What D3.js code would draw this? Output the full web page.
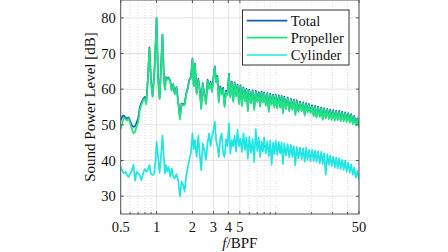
<!DOCTYPE html>
<html>
<head>
<meta charset="utf-8">
<script src="https://cdn.jsdelivr.net/npm/d3@7"></script>
<style>
html,body{margin:0;padding:0;background:#fff;}
svg{display:block;}
text{font-family:"Liberation Serif","DejaVu Serif",serif;fill:#111;}
</style>
</head>
<body>
<svg id="chart" width="448" height="252"></svg>
<script>
// ---- data ----
const freq = [
  0.5, 0.516, 0.532, 0.548, 0.566, 0.583, 0.602, 0.62, 0.64, 0.66, 0.68, 0.702, 0.724, 0.746, 0.77, 0.794, 0.819, 0.845, 0.871, 0.898, 0.926, 0.955, 0.98,
  1.0, 1.03, 1.06, 1.09, 1.12, 1.15, 1.175, 1.2, 1.23, 1.26, 1.3, 1.34, 1.38, 1.42, 1.47, 1.52, 1.57, 1.62, 1.67, 1.72, 1.77, 1.83, 1.88, 1.94,
  2.0, 2.05, 2.1, 2.17, 2.24, 2.3, 2.37, 2.44, 2.52, 2.6, 2.68, 2.76, 2.84, 2.92,
  3.0, 3.08, 3.16, 3.24, 3.33, 3.42, 3.52, 3.62, 3.72, 3.83, 3.94,
  4.05, 4.16, 4.28, 4.4, 4.52, 4.65, 4.78, 4.92,
  5.06, 5.2, 5.36, 5.52, 5.68, 5.84,
  6.0, 6.2, 6.4, 6.6, 6.8, 7.0, 7.2, 7.4, 7.6, 7.8,
  8.0, 8.25, 8.5, 8.75, 9.0, 9.25, 9.5, 9.75,
  10, 10.3, 10.6, 10.9, 11.2, 11.5, 11.8, 12.2, 12.6, 13, 13.4, 13.8, 14.2, 14.6, 15, 15.5, 16, 16.5, 17, 17.5, 18, 18.5, 19, 19.6,
  20.2, 20.8, 21.4, 22, 22.7, 23.4, 24.1, 24.8, 25.5, 26.3, 27.1, 27.9, 28.7, 29.5,
  30.4, 31.3, 32.2, 33.1, 34.1, 35.1, 36.1, 37.2, 38.3, 39.4,
  40.6, 41.8, 43, 44.3, 45.6, 47, 48.4, 50
];
const total = [
  51.2, 52.4, 52.6, 52.0, 51.8, 52.1, 51.0, 49.9, 49.4, 49.6, 50.6, 52.0, 55.0, 56.2, 57.2, 57.8, 56.3, 62.8, 71.7, 62.3, 58.2, 63.8, 72.2,
  79.9, 63.2, 57.4, 66.2, 75.3, 64.2, 60.0, 63.4, 62.9, 63.2, 62.4, 59.8, 61.4, 58.8, 60.6, 56.5, 52.0, 56.0, 55.7, 55.9, 58.7, 60.4, 62.6, 63.3,
  68.6, 61.0, 67.2, 58.9, 62.9, 60.1, 54.8, 61.7, 58.5, 56.2, 62.7, 60.3, 62.1, 59.6,
  63.2, 66.4, 62.2, 63.7, 56.8, 60.8, 59.0, 60.4, 55.6, 59.6, 58.9,
  64.3, 58.0, 62.1, 56.9, 61.9, 58.4, 61.3, 56.4,
  61.1, 55.7, 60.5, 57.0, 60.1, 54.4,
  59.9, 56.5, 59.7, 54.8, 59.5, 56.8, 59.2, 55.6, 59.3, 56.6,
  59.1, 55.9, 58.9, 54.2, 58.7, 56.0, 58.5, 55.3,
  58.5, 55.0, 58.3, 55.2, 58.1, 53.7, 57.9, 54.8, 57.7, 54.2, 57.3, 54.6, 57.1, 53.3, 56.9, 54.0, 56.5, 54.2, 56.3, 53.1, 56.1, 53.8, 55.9, 53.6,
  55.5, 52.8, 55.3, 52.4, 55.1, 52.6, 54.9, 51.8, 54.7, 52.2, 54.5, 52.0, 54.3, 51.8,
  54.1, 51.6, 54.0, 51.7, 53.9, 51.4, 53.7, 51.4, 53.5, 51.2,
  53.3, 51.0, 53.0, 50.6, 52.5, 50.2, 51.8, 49.6
];
const propeller = [
  48.8, 50.6, 52.0, 51.6, 51.2, 51.8, 50.4, 48.8, 47.6, 48.0, 49.6, 50.8, 54.4, 55.6, 56.8, 57.4, 55.8, 62.5, 71.4, 62.0, 57.8, 63.5, 72.0,
  79.8, 63.0, 57.2, 66.0, 75.2, 64.0, 59.8, 63.2, 62.6, 63.0, 62.2, 59.6, 61.2, 58.6, 60.4, 56.2, 51.5, 55.8, 55.4, 55.6, 58.4, 60.2, 62.4, 63.0,
  68.4, 60.8, 67.0, 58.6, 62.6, 59.8, 54.4, 61.4, 58.2, 55.8, 62.4, 60.0, 61.8, 59.2,
  62.8, 66.2, 61.8, 63.4, 56.2, 60.4, 58.6, 60.0, 55.0, 59.2, 58.4,
  64.0, 57.6, 61.8, 56.4, 61.6, 58.0, 61.0, 55.8,
  60.8, 55.2, 60.2, 56.6, 59.8, 53.8,
  59.6, 56.0, 59.4, 54.2, 59.2, 56.4, 58.8, 55.0, 59.0, 56.2,
  58.8, 55.4, 58.6, 53.6, 58.4, 55.6, 58.2, 54.8,
  58.2, 54.6, 58.0, 54.8, 57.8, 53.2, 57.6, 54.4, 57.4, 53.8, 57.0, 54.2, 56.8, 52.8, 56.6, 53.6, 56.2, 53.8, 56.0, 52.6, 55.8, 53.4, 55.6, 53.2,
  55.2, 52.4, 55.0, 52.0, 54.8, 52.2, 54.6, 51.4, 54.4, 51.8, 54.2, 51.6, 54.0, 51.4,
  53.8, 51.2, 53.7, 51.3, 53.6, 51.0, 53.4, 51.0, 53.2, 50.8,
  53.0, 50.6, 52.7, 50.2, 52.2, 49.8, 51.5, 49.2
];
const cylinder = [
  38.3, 37.0, 36.4, 36.8, 35.8, 35.4, 36.3, 37.2, 38.8, 34.3, 36.8, 36.4, 35.8, 34.5, 36.2, 37.6, 36.9, 37.4, 38.7, 36.2, 35.9, 36.4, 40.2,
  45.2, 41.0, 36.5, 41.2, 47.0, 41.0, 36.4, 38.7, 37.0, 38.2, 35.5, 37.8, 35.4, 35.0, 36.2, 34.4, 29.9, 34.1, 33.2, 31.3, 35.5, 38.2, 40.1, 42.0,
  47.6, 43.2, 45.7, 41.0, 46.9, 42.0, 37.3, 44.8, 42.8, 40.2, 45.0, 47.6, 44.0, 46.7,
  48.5, 50.9, 45.7, 44.0, 41.0, 46.0, 47.6, 42.0, 41.0, 46.0, 44.0,
  50.4, 41.9, 45.7, 44.0, 47.0, 42.5, 48.6, 44.0,
  46.2, 42.4, 47.6, 43.0, 46.5, 40.5,
  46.6, 42.2, 46.0, 39.5, 48.8, 42.6, 46.4, 41.0, 45.2, 42.4,
  46.5, 42.0, 45.4, 41.2, 45.6, 38.8, 45.0, 41.8,
  45.6, 41.6, 45.2, 42.0, 45.0, 39.0, 44.8, 41.4, 44.6, 40.8, 44.4, 41.0, 44.0, 38.6, 43.8, 40.6, 43.6, 40.4, 43.4, 39.6, 43.6, 40.2, 43.0, 39.8,
  43.0, 39.8, 42.8, 39.6, 42.6, 39.2, 42.4, 39.0, 42.0, 36.0, 41.8, 38.8, 41.4, 38.4,
  41.0, 38.0, 40.8, 37.8, 40.6, 37.6, 40.2, 37.4, 40.0, 36.8,
  39.4, 36.6, 38.9, 36.0, 38.0, 35.2, 37.0, 34.6
];
const seriesNames = ["Total", "Propeller", "Cylinder"];
const seriesColors = ["#1b5cb8", "#1ee382", "#1de6e3"];
const yTicks = [30, 40, 50, 60, 70, 80];
const xTicks = [0.5, 1, 2, 3, 4, 5, 50];
const xTickLabels = ["0.5", "1", "2", "3", "4", "5", "50"];
const xMinor = [0.6, 0.7, 0.8, 0.9, 6, 7, 8, 9, 10, 20, 30, 40];
const yLabel = "Sound Power Level [dB]";

// ---- layout ----
const L = 120.7, R = 359, T = 0, B = 214;
const svg = d3.select("#chart");
const x = d3.scaleLog().domain([0.5, 50]).range([L, R]);
const y = d3.scaleLinear().domain([25, 85]).range([B, T]);

// grid
const g = svg.append("g");
g.selectAll(".ymaj").data(yTicks).join("line")
  .attr("x1", L).attr("x2", R).attr("y1", d => y(d)).attr("y2", d => y(d))
  .attr("stroke", "#e3e3e3").attr("stroke-width", 1);
g.selectAll(".xmaj").data(xTicks).join("line")
  .attr("x1", d => x(d)).attr("x2", d => x(d)).attr("y1", T).attr("y2", B)
  .attr("stroke", "#e3e3e3").attr("stroke-width", 1);
g.selectAll(".xmin").data(xMinor).join("line")
  .attr("x1", d => x(d)).attr("x2", d => x(d)).attr("y1", T).attr("y2", B)
  .attr("stroke", "#d4d4d4").attr("stroke-width", 0.8).attr("stroke-dasharray", "1,2");

// clip
svg.append("clipPath").attr("id", "clip").append("rect")
  .attr("x", L).attr("y", T).attr("width", R - L).attr("height", B - T);

const n = Math.min(freq.length, total.length, propeller.length, cylinder.length);
const idx = d3.range(n);
const series = [total, propeller, cylinder];
const line = vals => d3.line().x(i => x(freq[i])).y(i => y(vals[i]))(idx);
const lg = svg.append("g").attr("clip-path", "url(#clip)");
series.forEach((vals, k) => {
  lg.append("path").attr("d", line(vals)).attr("fill", "none")
    .attr("stroke", seriesColors[k]).attr("stroke-width", 1.7)
    .attr("stroke-linejoin", "round");
});

// axes box
const axc = "#555";
svg.append("rect").attr("x", L).attr("y", T).attr("width", R - L).attr("height", B - T)
  .attr("fill", "none").attr("stroke", axc).attr("stroke-width", 1);

// ticks (inward, mirrored)
const tk = svg.append("g").attr("stroke", axc).attr("stroke-width", 1);
yTicks.forEach(v => {
  tk.append("line").attr("x1", L).attr("x2", L + 3).attr("y1", y(v)).attr("y2", y(v));
  tk.append("line").attr("x1", R).attr("x2", R - 3).attr("y1", y(v)).attr("y2", y(v));
});
xTicks.forEach(v => {
  tk.append("line").attr("x1", x(v)).attr("x2", x(v)).attr("y1", B).attr("y2", B - 3);
  tk.append("line").attr("x1", x(v)).attr("x2", x(v)).attr("y1", T).attr("y2", T + 3);
});
xMinor.forEach(v => {
  tk.append("line").attr("x1", x(v)).attr("x2", x(v)).attr("y1", B).attr("y2", B - 2);
});

// tick labels
svg.selectAll(".yl").data(yTicks).join("text")
  .attr("x", L - 5).attr("y", d => y(d)).attr("dy", "0.35em")
  .attr("text-anchor", "end").attr("font-size", 14.5).text(d => d);
svg.selectAll(".xl").data(xTicks).join("text")
  .attr("x", d => x(d)).attr("y", 232)
  .attr("text-anchor", "middle").attr("font-size", 14.5).text((d, i) => xTickLabels[i]);

// axis labels
svg.append("text").attr("transform", `translate(95,${(T + B) / 2}) rotate(-90)`)
  .attr("text-anchor", "middle").attr("font-size", 15).text(yLabel);
const xl = svg.append("text").attr("x", (L + R) / 2).attr("y", 248)
  .attr("text-anchor", "middle").attr("font-size", 15);
xl.append("tspan").attr("font-style", "italic").text("f");
xl.append("tspan").text("/BPF");

// legend
const lgX = 242.5, lgY = 10, lgW = 106.5, lgH = 55;
svg.append("rect").attr("x", lgX).attr("y", lgY).attr("width", lgW).attr("height", lgH)
  .attr("fill", "#fff").attr("stroke", "#333").attr("stroke-width", 1);
const rows = [20.7, 37.7, 55];
seriesNames.forEach((s, k) => {
  svg.append("line").attr("x1", 246.7).attr("x2", 287.3).attr("y1", rows[k]).attr("y2", rows[k])
    .attr("stroke", seriesColors[k]).attr("stroke-width", 1.7);
  svg.append("text").attr("x", 290.7).attr("y", rows[k]).attr("dy", "0.35em")
    .attr("font-size", 14.5).text(s);
});
</script>
</body>
</html>
